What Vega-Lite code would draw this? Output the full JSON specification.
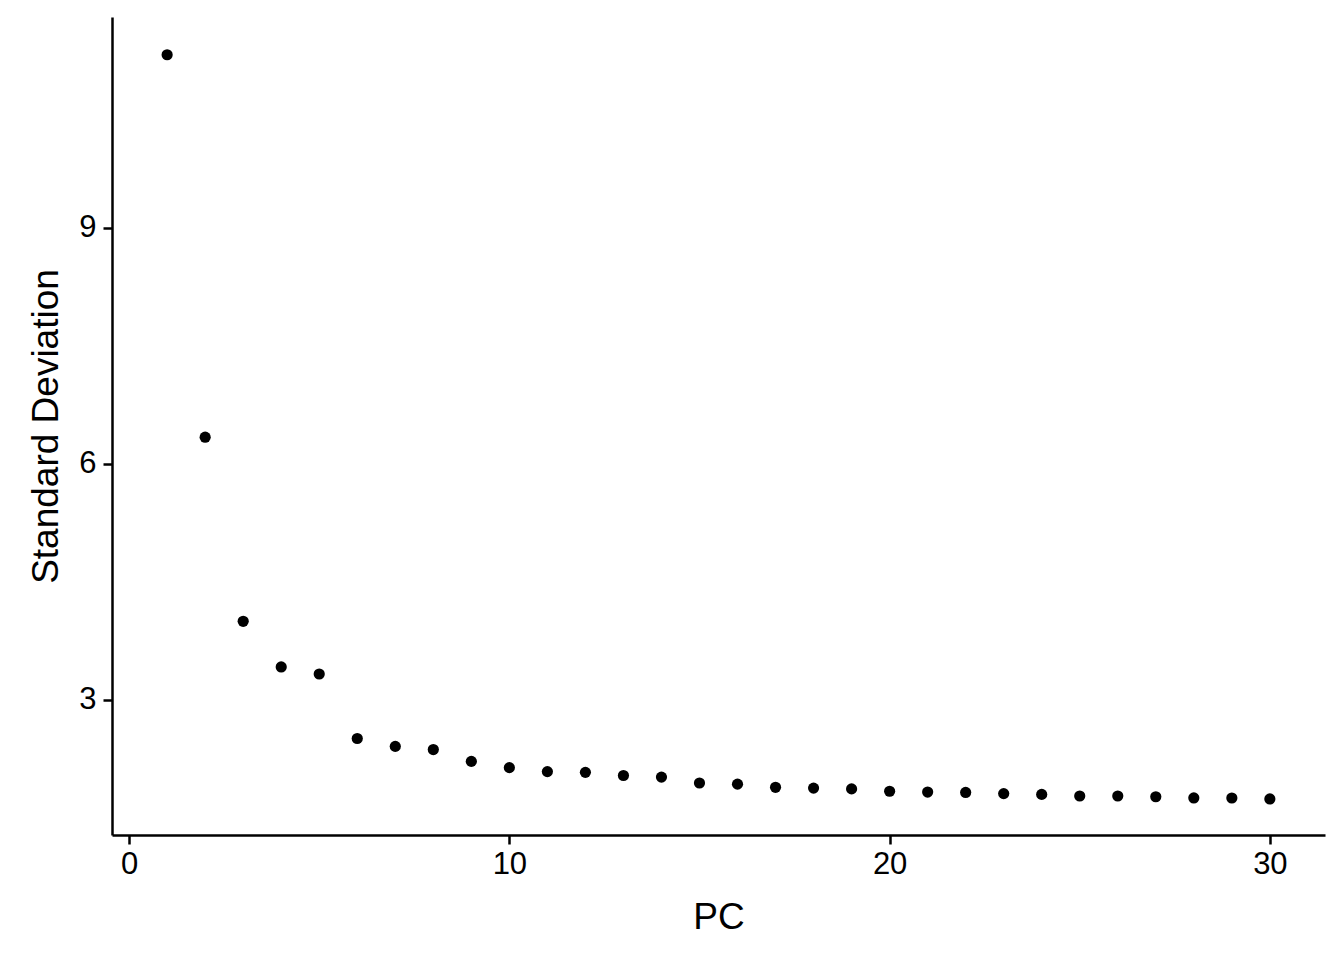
{
  "$schema": "https://vega.github.io/schema/vega-lite/v6.json",
  "autosize": {"type": "none"},
  "padding": {"left": 112, "top": 17, "right": 19, "bottom": 125},
  "width": 1213,
  "height": 818,
  "background": "white",
  "config": {
    "view": {"stroke": null},
    "font": "Liberation Sans",
    "axis": {
      "grid": false,
      "domainColor": "black",
      "domainWidth": 2.5,
      "tickColor": "black",
      "tickWidth": 2.5,
      "tickSize": 9,
      "labelFont": "Liberation Sans",
      "labelFontSize": 31,
      "labelColor": "black",
      "titleFont": "Liberation Sans",
      "titleFontSize": 37,
      "titleFontWeight": "normal",
      "titleColor": "black"
    }
  },
  "data": {
    "values": [
      {"PC": 1, "SD": 11.20},
      {"PC": 2, "SD": 6.34},
      {"PC": 3, "SD": 4.00},
      {"PC": 4, "SD": 3.42},
      {"PC": 5, "SD": 3.33},
      {"PC": 6, "SD": 2.51},
      {"PC": 7, "SD": 2.41},
      {"PC": 8, "SD": 2.37},
      {"PC": 9, "SD": 2.22},
      {"PC": 10, "SD": 2.14},
      {"PC": 11, "SD": 2.09},
      {"PC": 12, "SD": 2.08},
      {"PC": 13, "SD": 2.04},
      {"PC": 14, "SD": 2.02},
      {"PC": 15, "SD": 1.945},
      {"PC": 16, "SD": 1.93},
      {"PC": 17, "SD": 1.89},
      {"PC": 18, "SD": 1.88},
      {"PC": 19, "SD": 1.87},
      {"PC": 20, "SD": 1.84},
      {"PC": 21, "SD": 1.83},
      {"PC": 22, "SD": 1.825},
      {"PC": 23, "SD": 1.81},
      {"PC": 24, "SD": 1.80},
      {"PC": 25, "SD": 1.78},
      {"PC": 26, "SD": 1.78},
      {"PC": 27, "SD": 1.77},
      {"PC": 28, "SD": 1.755},
      {"PC": 29, "SD": 1.754},
      {"PC": 30, "SD": 1.742}
    ]
  },
  "mark": {"type": "circle", "color": "black", "opacity": 1, "size": 125},
  "encoding": {
    "x": {
      "field": "PC",
      "type": "quantitative",
      "title": "PC",
      "scale": {"domain": [-0.45, 31.45], "nice": false, "zero": false},
      "axis": {"values": [0, 10, 20, 30], "labelPadding": 5, "titlePadding": 20}
    },
    "y": {
      "field": "SD",
      "type": "quantitative",
      "title": "Standard Deviation",
      "scale": {"domain": [1.284, 11.68], "nice": false, "zero": false},
      "axis": {"values": [3, 6, 9], "labelPadding": 7, "titlePadding": 13}
    }
  }
}
